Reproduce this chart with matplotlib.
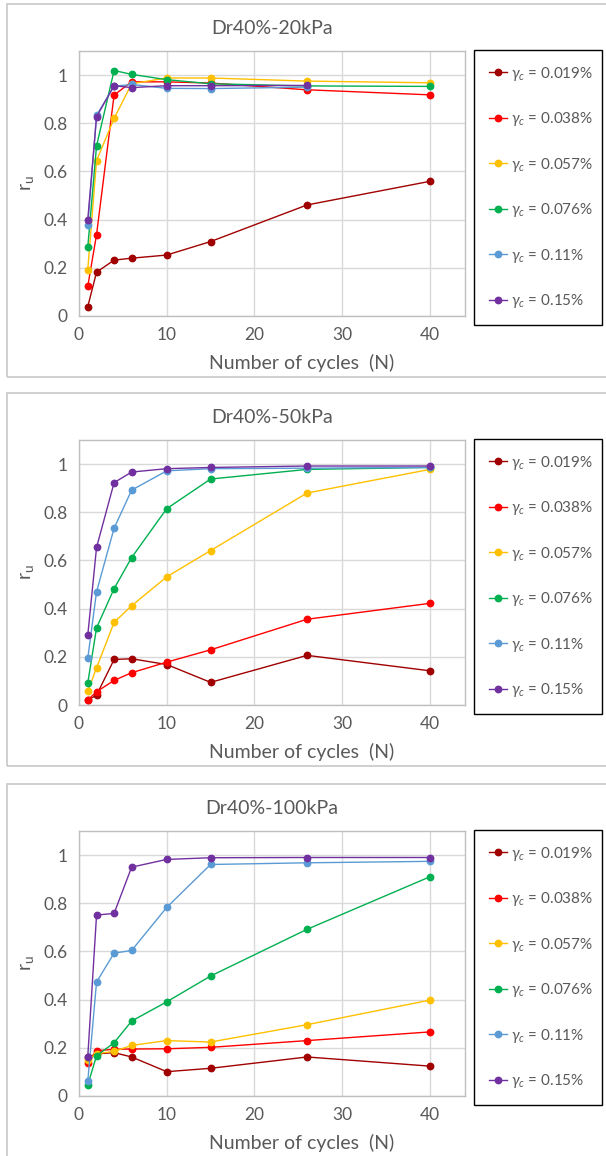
import matplotlib
matplotlib.use("Agg")
import matplotlib.pyplot as plt
from matplotlib.patches import Rectangle

plt.rcParams['font.family'] = ['Lato', 'DejaVu Sans']
plt.rcParams['mathtext.fontset'] = 'custom'
plt.rcParams['mathtext.rm'] = 'Lato'
plt.rcParams['mathtext.it'] = 'Lato:italic'

# number of cycles
cycles = [1, 2, 4, 6, 10, 15, 26, 40]

# Dr40%-20kPa
p20_g019 = [0.039, 0.182, 0.232, 0.240, 0.253, 0.309, 0.461, 0.559]
p20_g038 = [0.123, 0.338, 0.917, 0.972, 0.972, 0.967, 0.939, 0.918]
p20_g057 = [0.193, 0.645, 0.820, 0.964, 0.988, 0.988, 0.975, 0.968]
p20_g076 = [0.286, 0.706, 1.019, 1.003, 0.981, 0.964, 0.955, 0.953]
p20_g11 = [0.376, 0.833, 0.954, 0.961, 0.945, 0.944, 0.950]
p20_g15 = [0.400, 0.827, 0.956, 0.948, 0.956, 0.956, 0.957]

# Dr40%-50kPa
p50_g019 = [0.020, 0.041, 0.189, 0.192, 0.168, 0.094, 0.206, 0.142]
p50_g038 = [0.021, 0.055, 0.102, 0.134, 0.178, 0.229, 0.356, 0.422]
p50_g057 = [0.057, 0.154, 0.343, 0.412, 0.532, 0.641, 0.880, 0.978]
p50_g076 = [0.091, 0.320, 0.483, 0.612, 0.815, 0.938, 0.978, 0.986]
p50_g11 = [0.194, 0.470, 0.734, 0.892, 0.972, 0.981, 0.983, 0.986]
p50_g15 = [0.290, 0.654, 0.923, 0.967, 0.981, 0.986, 0.992, 0.992]

# Dr40%-100kPa
p100_g019 = [0.160, 0.175, 0.180, 0.162, 0.101, 0.115, 0.162, 0.124]
p100_g038 = [0.138, 0.188, 0.194, 0.195, 0.196, 0.202, 0.230, 0.266]
p100_g057 = [0.149, 0.176, 0.185, 0.210, 0.230, 0.224, 0.296, 0.398]
p100_g076 = [0.046, 0.167, 0.221, 0.311, 0.391, 0.498, 0.692, 0.910]
p100_g11 = [0.062, 0.473, 0.593, 0.604, 0.783, 0.961, 0.968, 0.974]
p100_g15 = [0.163, 0.751, 0.758, 0.950, 0.982, 0.989, 0.990, 0.990]

titles = ['Dr40%-20kPa', 'Dr40%-50kPa', 'Dr40%-100kPa']
labels = [r'$\gamma_c$ = 0.019%', r'$\gamma_c$ = 0.038%', r'$\gamma_c$ = 0.057%',
          r'$\gamma_c$ = 0.076%', r'$\gamma_c$ = 0.11%', r'$\gamma_c$ = 0.15%']
colors = ['#A00000', '#FF0000', '#FFC000', '#00B050', '#5B9BD5', '#7030A0']

panels = [[p20_g019, p20_g038, p20_g057, p20_g076, p20_g11, p20_g15],
          [p50_g019, p50_g038, p50_g057, p50_g076, p50_g11, p50_g15],
          [p100_g019, p100_g038, p100_g057, p100_g076, p100_g11, p100_g15]]

W, H = 606, 1156
txt = '#595959'
fig = plt.figure(figsize=(W / 100, H / 100), dpi=100)

offsets = [0, 389, 780]
for k in range(3):
    off = offsets[k]
    # panel border
    fig.add_artist(Rectangle((7 / W, 1 - (377 + off) / H), 620 / W, 373 / H,
                             transform=fig.transFigure, fill=False,
                             ec='#C8C8C8', lw=1.2))
    ax = fig.add_axes([79 / W, 1 - (316 + off) / H, 386 / W, 265 / H])
    for i in range(6):
        vals = panels[k][i]
        ax.plot(cycles[:len(vals)], vals, '-o', color=colors[i], lw=1.0,
                ms=4.6, label=labels[i])
    ax.set_xlim(0, 44)
    ax.set_ylim(0, 1.1)
    ax.set_xticks([0, 10, 20, 30, 40])
    ax.set_yticks([0, 0.2, 0.4, 0.6, 0.8, 1.0])
    ax.set_yticklabels(['0', '0.2', '0.4', '0.6', '0.8', '1'])
    ax.grid(True, color='#D9D9D9', lw=1.0)
    ax.set_axisbelow(True)
    for s in ax.spines.values():
        s.set_color('#BFBFBF')
        s.set_linewidth(1.0)
    ax.tick_params(length=0, colors=txt, labelsize=12.5, pad=8)
    ax.set_title(titles[k], color=txt, fontsize=14, pad=12)
    ax.set_xlabel('Number of cycles  (N)', color=txt, fontsize=14, va='center')
    ax.xaxis.set_label_coords((302 - 79) / 386, -47 / 265)
    ax.set_ylabel(r'r$_\mathrm{u}$', color=txt, fontsize=14, va='center')
    ax.yaxis.set_label_coords(-51 / 386, 0.5)

    leg = ax.legend(loc='upper left',
                    bbox_to_anchor=(474 / W, 1 - (316 + off) / H, 128 / W, 266 / H),
                    bbox_transform=fig.transFigure, mode='expand',
                    fancybox=False, framealpha=1, edgecolor='black',
                    fontsize=11, labelspacing=1.8, borderpad=0.95,
                    handlelength=1.2, handletextpad=0.3, borderaxespad=0)
    leg.get_frame().set_linewidth(1.0)
    for t in leg.get_texts():
        t.set_color(txt)

plt.savefig('out.png', dpi=100)
